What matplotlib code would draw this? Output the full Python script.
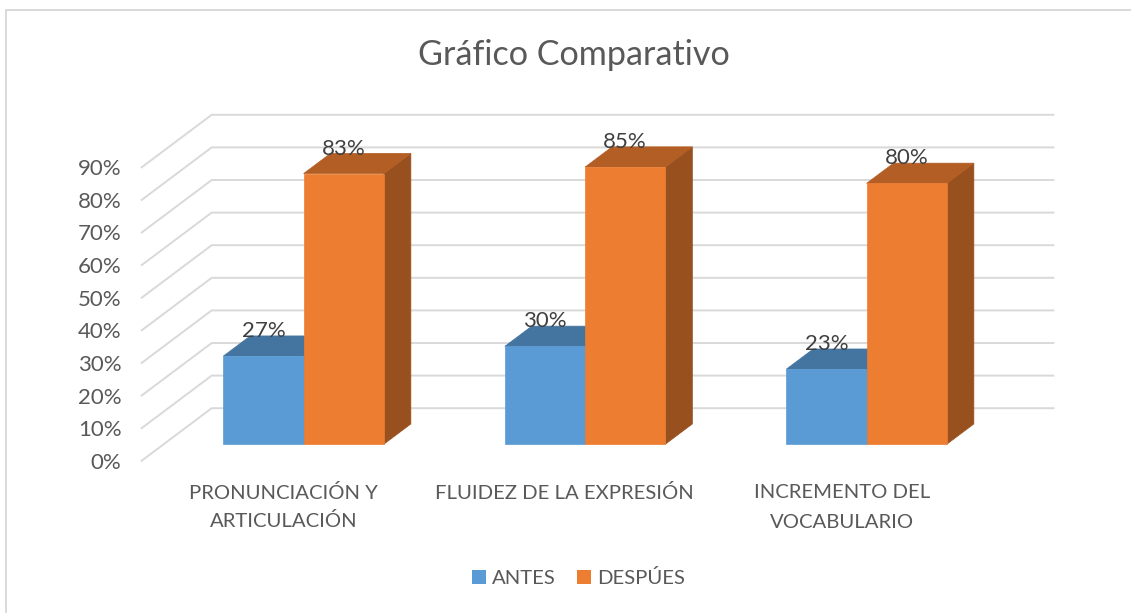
import matplotlib
matplotlib.use("Agg")
import matplotlib.pyplot as plt
from matplotlib.lines import Line2D
from matplotlib.patches import Polygon, Rectangle

categories = ["PRONUNCIACIÓN Y\nARTICULACIÓN", "FLUIDEZ DE LA EXPRESIÓN", "INCREMENTO DEL\nVOCABULARIO"]
antes = [27, 30, 23]
despues = [83, 85, 80]
series_names = ["ANTES", "DESPÚES"]
yticks = [0, 10, 20, 30, 40, 50, 60, 70, 80, 90]

W, H = 1131, 613
plt.rcParams['font.family'] = ['Lato', 'DejaVu Sans']
fig = plt.figure(figsize=(W/100, H/100), dpi=100, facecolor='white')
L, R, B, T = 141.7, 986.2, 460.7, 167.3
ax = fig.add_axes([L/W, 1-B/H, (R-L)/W, (B-T)/H])
ax.set_xlim(-0.5, 2.5)
ax.set_ylim(0, 90)
ax.patch.set_visible(False)
for s in ax.spines.values():
    s.set_visible(False)

px_x = (R-L)/3
px_y = (B-T)/90
depth_x = 70/px_x
depth_y = 52.5/px_y

def proj(x, y, d):
    return (x + d*depth_x, y + d*depth_y)

# walls / gridlines
for v in yticks:
    p0 = proj(-0.5, v, 0)
    p1 = proj(-0.5, v, 1)
    p2 = proj(2.49, v, 1)
    ax.plot([p0[0], p1[0], p2[0]], [p0[1], p1[1], p2[1]], color='#d9d9d9', lw=1.4,
            clip_on=False, zorder=1, solid_joinstyle='miter')

D0, D1 = 0.315, 0.70
bw = 80.3/px_x
shift = -0.9/px_x

def box(x0, x1, h, front, top, side, z):
    a = proj
    ax.add_patch(Polygon([a(x1, 0, D0), a(x1, 0, D1), a(x1, h, D1), a(x1, h, D0)], closed=True,
                         fc=side, ec=side, lw=0.5, clip_on=False, zorder=z))
    ax.add_patch(Polygon([a(x0, h, D0), a(x1, h, D0), a(x1, h, D1), a(x0, h, D1)], closed=True,
                         fc=top, ec=top, lw=0.5, clip_on=False, zorder=z))
    ax.add_patch(Polygon([a(x0, 0, D0), a(x1, 0, D0), a(x1, h, D0), a(x0, h, D0)], closed=True,
                         fc=front, ec=front, lw=0.5, clip_on=False, zorder=z+0.1))

BLUE, BLUE_T, BLUE_S = '#5b9bd5', '#4475a0', '#375f84'
ORG, ORG_T, ORG_S = '#ed7d31', '#b35e25', '#97501e'

for i in range(3):
    box(i+shift-bw, i+shift, antes[i], BLUE, BLUE_T, BLUE_S, 3)
    box(i+shift, i+shift+bw, despues[i], ORG, ORG_T, ORG_S, 4)

txt = '#404040'
for i in range(3):
    ax.annotate(f"{antes[i]}%", proj(i+shift-bw/2, antes[i], D0), xytext=(0, 18), textcoords='offset points',
                ha='center', va='center', fontsize=16, color=txt, zorder=8)
    ax.annotate(f"{despues[i]}%", proj(i+shift+bw/2, despues[i], D0), xytext=(0, 18), textcoords='offset points',
                ha='center', va='center', fontsize=16, color=txt, zorder=8)

ax.set_yticks(yticks)
ax.set_yticklabels([f"{v}%" for v in yticks], fontsize=16, color='#595959')
ax.set_xticks([0.0036, 1.0, 1.9893])
ax.set_xticklabels(categories, fontsize=14.6, color='#595959')
for lab, ls in zip(ax.get_xticklabels(), [1.72, 1.5, 1.94]):
    lab.set_linespacing(ls)
ax.tick_params(axis='both', length=0)
ax.tick_params(axis='y', pad=14.5)
ax.tick_params(axis='x', pad=16.5)

fig.text(573.5/W, 1-55/H, "Gráfico Comparativo", ha='center', va='center', fontsize=24.6, color='#595959')

# legend
handles = [Rectangle((0, 0), 1, 1, fc=BLUE), Rectangle((0, 0), 1, 1, fc=ORG)]
fig.legend(handles, series_names, loc='center', bbox_to_anchor=(578.5/W, 1-578/H), ncol=2, frameon=False,
           fontsize=14.6, labelcolor='#595959', handlelength=0.7, handleheight=0.7, handletextpad=0.3,
           columnspacing=1.05)

# chart frame: only top and left edges fall inside the picture
fig.add_artist(Line2D([5.5/W, 5.5/W, 1.0], [0, 1-10/H, 1-10/H], transform=fig.transFigure,
                      color='#d9d9d9', lw=1.4))
fig.savefig("out.png", dpi=100)
